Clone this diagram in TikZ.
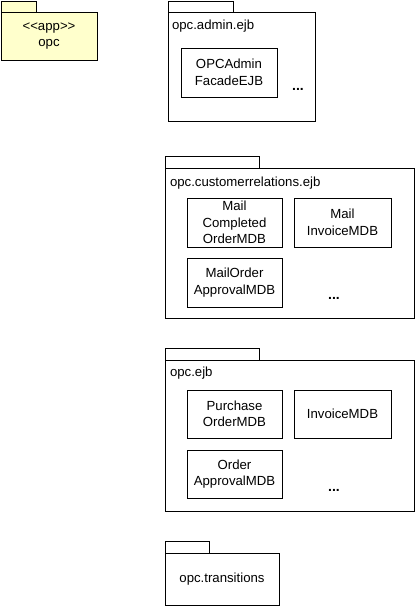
\documentclass[tikz,border=0pt]{standalone}
\usepackage{fontspec}
\setmainfont{Liberation Sans}
\definecolor{pkgyellow}{RGB}{255,255,204}
\begin{document}
\begin{tikzpicture}[x=1pt,y=-1pt,
  every node/.style={font=\fontsize{13.2}{16.5}\selectfont, inner sep=0pt, outer sep=0pt},
  pkg/.style={draw=black, line width=0.9pt, fill=white, anchor=north west},
  cls/.style={draw=black, line width=0.9pt, fill=white, anchor=north west, align=center},
  lbl/.style={anchor=west},
  dots/.style={font=\fontsize{14}{16}\selectfont\bfseries}]
\useasboundingbox (0,0) rectangle (415,607);

% app package
\node[pkg, fill=pkgyellow, minimum width=35pt, minimum height=12pt] (apptab) at (1,1) {};
\node[pkg, fill=pkgyellow, minimum width=96pt, minimum height=48pt, align=center] (app) at (1,12) {<\kern0pt<app>\kern0pt>\\opc};

% admin package
\node[pkg, minimum width=65pt, minimum height=12pt] (admintab) at (168,1) {};
\node[pkg, minimum width=147pt, minimum height=109pt] (admin) at (168,12) {};
\node[lbl] (adminlbl) at (172,26) {opc.admin.ejb};
\node[cls, minimum width=96pt, minimum height=49pt] (facade) at (181,48) {OPCAdmin\\FacadeEJB};
\node[dots] (admindots) at (298,89) {...};

% customerrelations package
\node[pkg, minimum width=94pt, minimum height=12pt] (crtab) at (165,156) {};
\node[pkg, minimum width=249pt, minimum height=150pt] (cr) at (165,168) {};
\node[lbl] (crlbl) at (170,183) {opc.customerrelations.ejb};
\node[cls, minimum width=95pt, minimum height=49pt] (mcomp) at (187,198) {Mail\\Completed\\OrderMDB};
\node[cls, minimum width=97pt, minimum height=49pt] (minv) at (294,198) {Mail\\InvoiceMDB};
\node[cls, minimum width=95pt, minimum height=49pt] (mappr) at (187,258) {MailOrder\\ApprovalMDB};
\node[dots] (crdots) at (334,298) {...};

% ejb package
\node[pkg, minimum width=94pt, minimum height=12pt] (ejbtab) at (165,348) {};
\node[pkg, minimum width=249pt, minimum height=151pt] (ejb) at (165,360) {};
\node[lbl] (ejblbl) at (170,373) {opc.ejb};
\node[cls, minimum width=95pt, minimum height=48pt] (po) at (187,390) {Purchase\\OrderMDB};
\node[cls, minimum width=97pt, minimum height=48pt] (inv) at (294,390) {InvoiceMDB};
\node[cls, minimum width=95pt, minimum height=48pt] (oa) at (187,450) {Order\\ApprovalMDB};
\node[dots] (ejbdots) at (334,490) {...};

% transitions package
\node[pkg, minimum width=44pt, minimum height=12pt] (trtab) at (165,541) {};
\node[pkg, minimum width=114pt, minimum height=52pt] (tr) at (165,553) {opc.transitions};
\end{tikzpicture}
\end{document}
